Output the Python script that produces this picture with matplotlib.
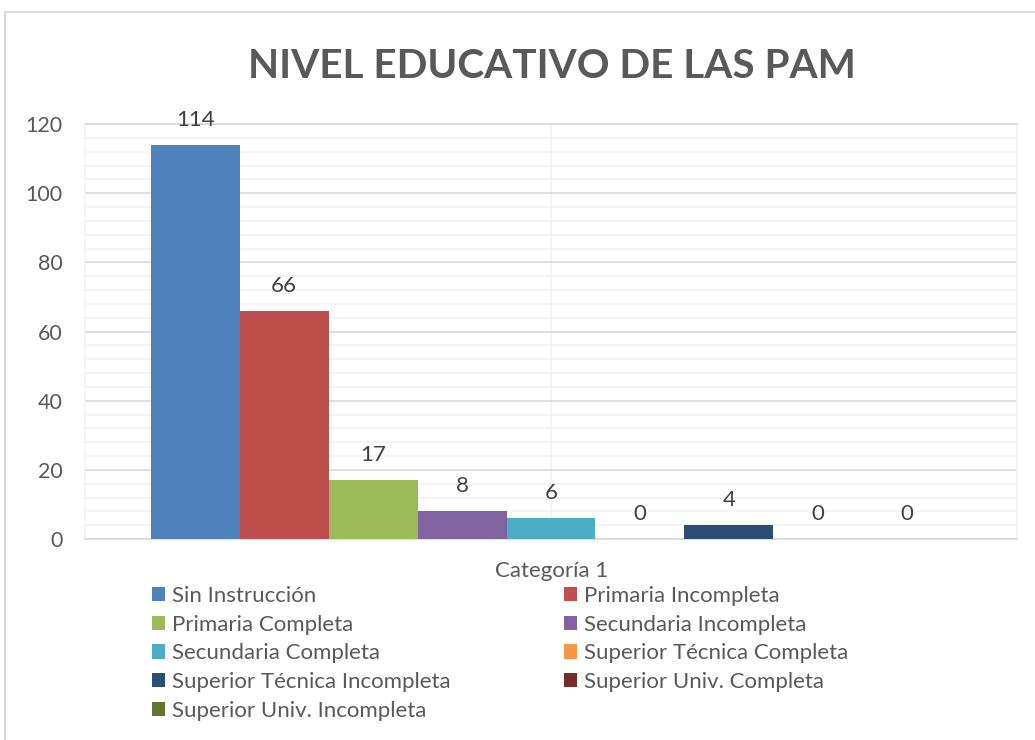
import matplotlib
matplotlib.use("Agg")
import matplotlib.pyplot as plt
from matplotlib.patches import Rectangle, Patch
from matplotlib.ticker import MultipleLocator

categories = ["Sin Instrucción", "Primaria Incompleta", "Primaria Completa",
              "Secundaria Incompleta", "Secundaria Completa", "Superior Técnica Completa",
              "Superior Técnica Incompleta", "Superior Univ. Completa", "Superior Univ. Incompleta"]
values = [114, 66, 17, 8, 6, 0, 4, 0, 0]
colors = ["#4F81BD", "#C0504D", "#9BBB59", "#8064A2", "#4BACC6",
          "#F79646", "#2C4D75", "#772C2A", "#5F7530"]
title = "NIVEL EDUCATIVO DE LAS PAM"
xlabel = "Categoría 1"
yticks = [0, 20, 40, 60, 80, 100, 120]

plt.rcParams['font.family'] = ['Lato', 'DejaVu Sans']
W, H = 1035, 740
fig = plt.figure(figsize=(W/100, H/100), dpi=100)

# outer chart border
fig.patches.append(Rectangle((5/W, -0.1), 1.2, 1 - 12/H + 0.1, transform=fig.transFigure,
                             fill=False, edgecolor="#D9D9D9", linewidth=1.3))

ax = fig.add_axes([85/W, 1 - 539/H, (1017-85)/W, (539-124)/H])
xs = list(range(len(values)))
bars = ax.bar(xs, values, width=1.0, color=colors, zorder=3)
ax.set_xlim(-1.24, len(values) - 1 + 1.24)
ax.set_ylim(0, 120)
ax.yaxis.set_major_locator(MultipleLocator(20))
ax.yaxis.set_minor_locator(MultipleLocator(4))
ax.set_yticks(yticks)
ax.set_yticklabels([str(v) for v in yticks], fontsize=15.5, color="#595959")
ax.tick_params(axis='y', length=0, which='both', pad=16)
ax.set_xticks([])
ax.grid(axis='y', which='major', color="#D9D9D9", linewidth=1.2, zorder=0)
ax.grid(axis='y', which='minor', color="#F2F2F2", linewidth=1.2, zorder=0)
ax.axvline((len(values) - 1) / 2, color="#F2F2F2", linewidth=1.2, zorder=0)
for s in ['left', 'right', 'top']:
    ax.spines[s].set_color("#F2F2F2")
    ax.spines[s].set_linewidth(1.2)
ax.spines['top'].set_color("#D9D9D9")
ax.spines['bottom'].set_color("#D9D9D9")
ax.spines['bottom'].set_linewidth(1.2)

for b, v in zip(bars, values):
    ax.annotate(str(v), (b.get_x() + b.get_width()/2, v), xytext=(0, 18),
                textcoords="offset points", ha='center', va='center',
                fontsize=16, color="#404040")

fig.text(552/W, 1 - 66/H, title, ha='center', va='center', fontsize=29.2,
         fontweight='bold', color="#595959")
fig.text(552/W, 1 - 571/H, xlabel, ha='center', va='center', fontsize=16, color="#595959")

handles = [Patch(facecolor=c) for c in colors]
col1 = [0, 2, 4, 6, 8]
col2 = [1, 3, 5, 7]
for idx, x0 in ((col1, 152), (col2, 564)):
    leg = fig.legend([handles[i] for i in idx], [categories[i] for i in idx],
                     loc='upper left', bbox_to_anchor=(x0/W, 1 - 586/H), frameon=False,
                     fontsize=16, handlelength=0.6, handleheight=0.6, handletextpad=0.3,
                     labelspacing=0.39, borderpad=0, borderaxespad=0)
    for t in leg.get_texts():
        t.set_color("#595959")

fig.savefig("out.png", dpi=100)
